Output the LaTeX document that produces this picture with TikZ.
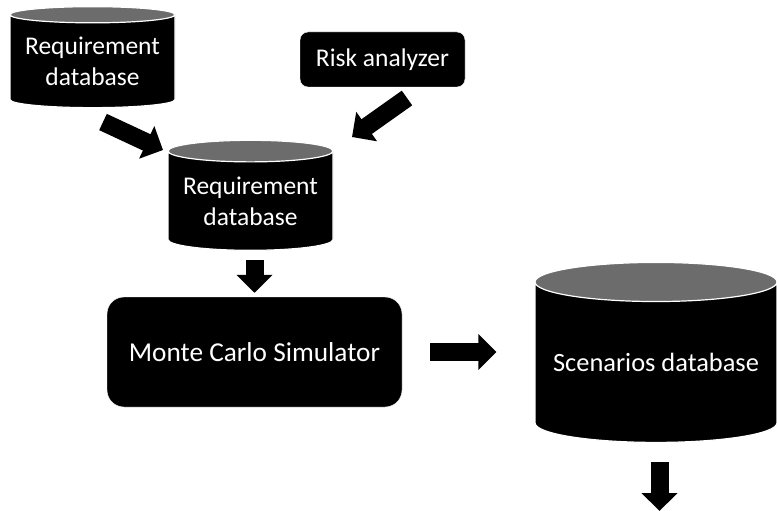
\documentclass[tikz,border=0pt]{standalone}
\usepackage{fontspec}
\setmainfont{Carlito}
\usetikzlibrary{shapes.geometric, arrows.meta, positioning, calc}
\definecolor{dbtop}{RGB}{108,108,108}
\tikzset{
  every node/.style={text=white, font=\fontsize{25.5}{31}\selectfont, align=center},
  db/.style={cylinder, shape border rotate=90, draw=white, line width=1.2pt,
    cylinder uses custom fill, cylinder body fill=black,
    cylinder end fill=dbtop, inner sep=0pt},
  tool/.style={rectangle, rounded corners=8pt, fill=black, draw=white, inner sep=0pt},
  blockarrow/.style={line width=18pt, -{Triangle[width=35pt, length=18pt]}},
}

\begin{document}
\begin{tikzpicture}[x=1pt, y=1pt]
  \useasboundingbox (0,0) rectangle (777,-511);

  \node[db, minimum width=165pt, minimum height=101pt, aspect=0.12] (reqA) at (92.5,-61.5)  {Requirement\\database};
  \node[tool, minimum width=165pt, minimum height=55pt]              (risk) at (382.5,-59.5) {Risk analyzer};
  \node[db, minimum width=165pt, minimum height=110pt, aspect=0.16] (reqB) at (250.5,-201)  {Requirement\\database};
  \node[tool, rounded corners=17pt, minimum width=295pt, minimum height=110pt,
        font=\fontsize{27.3}{33}\selectfont] (mcs) at (254.5,-352) {Monte Carlo Simulator};
  \node[db, minimum width=242pt, minimum height=180pt, aspect=0.19,
        font=\fontsize{26.4}{32}\selectfont] (scen) at (656,-362.5)  {Scenarios database};

  % block arrows
  \draw[blockarrow] ([shift={(10.5,-60.5)}]reqA.center) -- ([shift={(-87.5,51)}]reqB.center);
  \draw[blockarrow] ([shift={(24.5,-38.5)}]risk.center) -- ([shift={(101.5,64)}]reqB.center);
  \draw[blockarrow] ([shift={(4,-59)}]reqB.center) -- ([yshift=4pt]mcs.north);
  \draw[blockarrow] ([xshift=28pt]mcs.east) -- ($(scen.west |- mcs.east)+(-38,0)$);
  \draw[blockarrow] ([shift={(3.5,-99.5)}]scen.center) -- ([shift={(3.5,-148.5)}]scen.center);
\end{tikzpicture}
\end{document}
